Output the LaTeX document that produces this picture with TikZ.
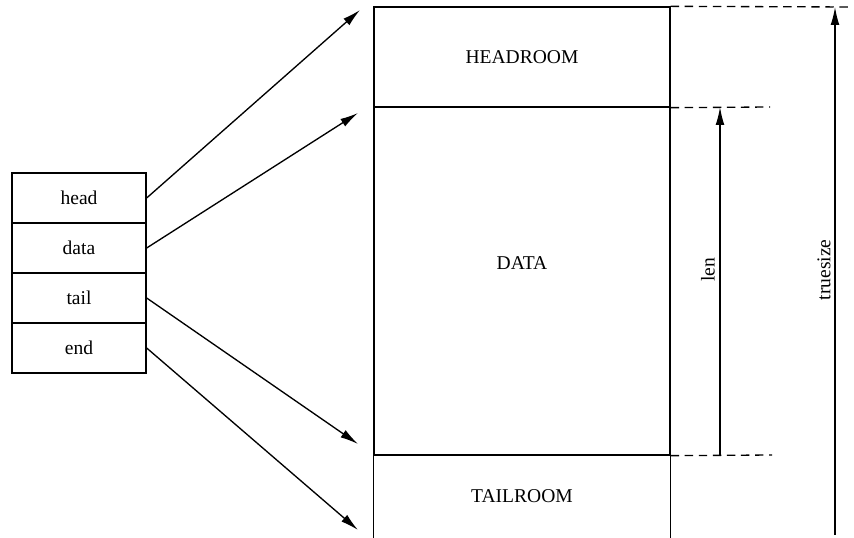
\documentclass[tikz,border=0pt]{standalone}
\usepackage{fontspec}
\setmainfont{Liberation Serif}
\usetikzlibrary{arrows.meta}

\begin{document}
\begin{tikzpicture}[
	font=\fontsize{13.9}{16}\selectfont,
	line width=0.95pt,
	field/.style={rectangle, draw=black, minimum width=3.35cm, minimum height=1.25cm},
	region/.style={rectangle, minimum width=7.4cm},
	ptr/.style={-{Latex[length=0.45cm, width=0.22cm]}},
	guide/.style={dash pattern=on 6pt off 4pt}
]
\useasboundingbox (0,0) rectangle (21.35,13.45);

% the sk_buff pointers
\node (bhead) at (1.975, 8.5) [field] {head};
\node (bdata) at (1.975, 7.25) [field] {data};
\node (btail) at (1.975, 6.0) [field] {tail};
\node (bend) at (1.975, 4.75) [field] {end};

% the buffer itself
\node (headroom) at (13.05, 12.025) [region, draw=black, minimum height=2.5cm] {HEADROOM};
\node (dataroom) at (13.05, 6.425) [region, draw=black, minimum height=8.7cm] {};
\node (datatext) at (13.05, 6.875) {DATA};
\node (tailroom) at (13.05, 1.0375) [region, minimum height=2.075cm] {TAILROOM};
\draw (tailroom.south west) -- (tailroom.north west) -- (tailroom.north east) -- (tailroom.south east);

\coordinate (toHead) at (9.0, 13.2);
\coordinate (toData) at (8.95, 10.625);
\coordinate (toTail) at (8.95, 2.35);
\coordinate (toEnd) at (8.95, 0.2);

\draw[ptr] (bhead.east) -- (toHead);
\draw[ptr] (bdata.east) -- (toData);
\draw[ptr] (btail.east) -- (toTail);
\draw[ptr] (bend.east) -- (toEnd);

% extents
\coordinate (topEdge) at (21.25, 13.275);
\coordinate (dataTop) at (19.25, 10.775);
\coordinate (dataBot) at (19.3, 2.075);
\draw[guide] (headroom.north east) -- (topEdge);
\draw[guide] (headroom.south east) -- (dataTop);
\draw[guide] (dataroom.south east) -- (dataBot);

\coordinate (lenTop) at (18.0, 10.775);
\coordinate (lenBot) at (18.0, 2.075);
\draw[ptr, {Latex[length=0.45cm, width=0.22cm]}-] (lenTop) -- (lenBot);
\coordinate (sizeTop) at (20.875, 13.275);
\coordinate (sizeBot) at (20.875, 0.075);
\draw[ptr, {Latex[length=0.45cm, width=0.22cm]}-] (sizeTop) -- (sizeBot);

\node (len) at (17.7, 6.7) [rotate=90] {len};
\node (truesize) at (20.6, 6.7) [rotate=90] {truesize};

\end{tikzpicture}
\end{document}
